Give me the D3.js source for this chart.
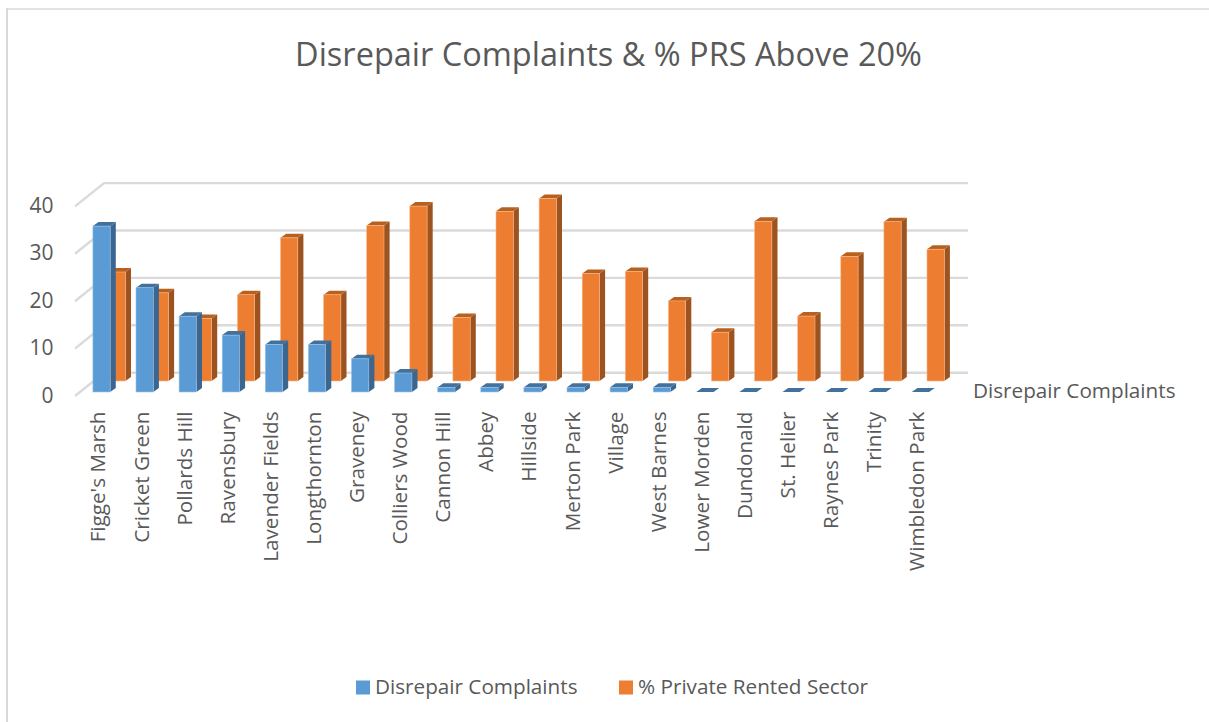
<!DOCTYPE html>
<html><head><meta charset="utf-8">
<script src="https://cdn.jsdelivr.net/npm/d3@7/dist/d3.min.js"></script>
<style>html,body{margin:0;padding:0;background:#fff}svg{display:block}text{font-family:"Open Sans",sans-serif;fill:#595959}</style>
</head><body><svg id="c" width="1209" height="722"></svg>
<script>
const title = "Disrepair Complaints & % PRS Above 20%";
const categories = ["Figge's Marsh","Cricket Green","Pollards Hill","Ravensbury","Lavender Fields","Longthornton","Graveney","Colliers Wood","Cannon Hill","Abbey","Hillside","Merton Park","Village","West Barnes","Lower Morden","Dundonald","St. Helier","Raynes Park","Trinity","Wimbledon Park"];
const complaints = [35,22,16,12,10,10,7,4,1,1,1,1,1,1,0,0,0,0,0,0];
const prs = [23,18.6,13.2,18.2,30.2,18.2,32.8,36.9,13.4,35.8,38.5,22.7,23.1,16.9,10.3,33.7,13.7,26.3,33.6,27.8];
const yTicks = [0,10,20,30,40];
const seriesNames = ["Disrepair Complaints","% Private Rented Sector"];
const depthLabel = "Disrepair Complaints";

const svg = d3.select("#c");
const floorFront = 392, floorBack = 381;
const step = 43.1, barW = 17.3;
const x = d3.scaleBand().domain(categories).range([80, 80 + step*categories.length]);
const bx = d => x(d) + (step-barW)/2;
const h = d3.scaleLinear().domain([0,40]).range([0,189.6]);
const sideX = 5.6, sideY = 4;

// frame
svg.append("line").attr("x1",7).attr("x2",7).attr("y1",8.5).attr("y2",722).attr("stroke","#d9d9d9").attr("stroke-width",2);
svg.append("line").attr("x1",6).attr("x2",1209).attr("y1",9).attr("y2",9).attr("stroke","#d9d9d9").attr("stroke-width",1.5);

// title
svg.append("text").attr("x",608.5).attr("y",66).attr("text-anchor","middle").attr("font-size",32.5).text(title);

// gridlines
const grid = svg.append("g").attr("fill","none").attr("stroke","#dadada").attr("stroke-width",2.4);
yTicks.forEach(t=>{
  const yb = 372.7 - h(t), yf = 396 - h(t);
  grid.append("path").attr("d",`M75,${yf}L104,${yb}L968,${yb}`);
});

// tick labels
svg.append("g").selectAll("text").data(yTicks).join("text")
  .attr("x",53.5).attr("y",t=>402.5 - h(t)).attr("text-anchor","end").attr("font-size",21).text(t=>t);

function bars(vals, dx, floor, face, top, side, edge){
  const g = svg.append("g");
  categories.forEach((c,i)=>{
    const v = vals[i], H = h(v), xl = bx(c)+dx, xr = xl+barW, yt = floor-H;
    const cx = g.append("g");
    cx.append("path").attr("fill",side).attr("d",`M${xr},${floor}L${xr+sideX},${floor-sideY}L${xr+sideX},${yt-sideY}L${xr},${yt}Z`);
    cx.append("path").attr("fill",top).attr("d",`M${xl},${yt}L${xl+sideX},${yt-sideY}L${xr+sideX},${yt-sideY}L${xr},${yt}Z`);
    if(H>0) cx.append("rect").attr("x",xl).attr("y",yt).attr("width",barW).attr("height",H).attr("fill",face).attr("stroke",edge).attr("stroke-width",0.6);
  });
}
bars(prs, 15.2, floorBack, "#ed7d31", "#b8611f", "#9c531f", "#f6b98e");
bars(complaints, 0, floorFront, "#5b9bd5", "#41719c", "#3b6690", "#9cc3e6");

// category labels
svg.append("g").selectAll("text").data(categories).join("text")
  .attr("text-anchor","end").attr("font-size",20.7)
  .attr("transform",d=>`translate(${bx(d)+12.5},411.5) rotate(-90)`).text(d=>d);

// depth axis label
svg.append("text").attr("x",973).attr("y",398).attr("font-size",20.7).text(depthLabel);

// legend
const legX = [356,619], legColors = ["#5b9bd5","#ed7d31"];
const leg = svg.append("g");
seriesNames.forEach((n,i)=>{
  leg.append("rect").attr("x",legX[i]).attr("y",680.5).attr("width",14).attr("height",14).attr("fill",legColors[i]);
  leg.append("text").attr("x",legX[i]+19).attr("y",693.5).attr("font-size",20.7).text(n);
});
</script></body></html>
